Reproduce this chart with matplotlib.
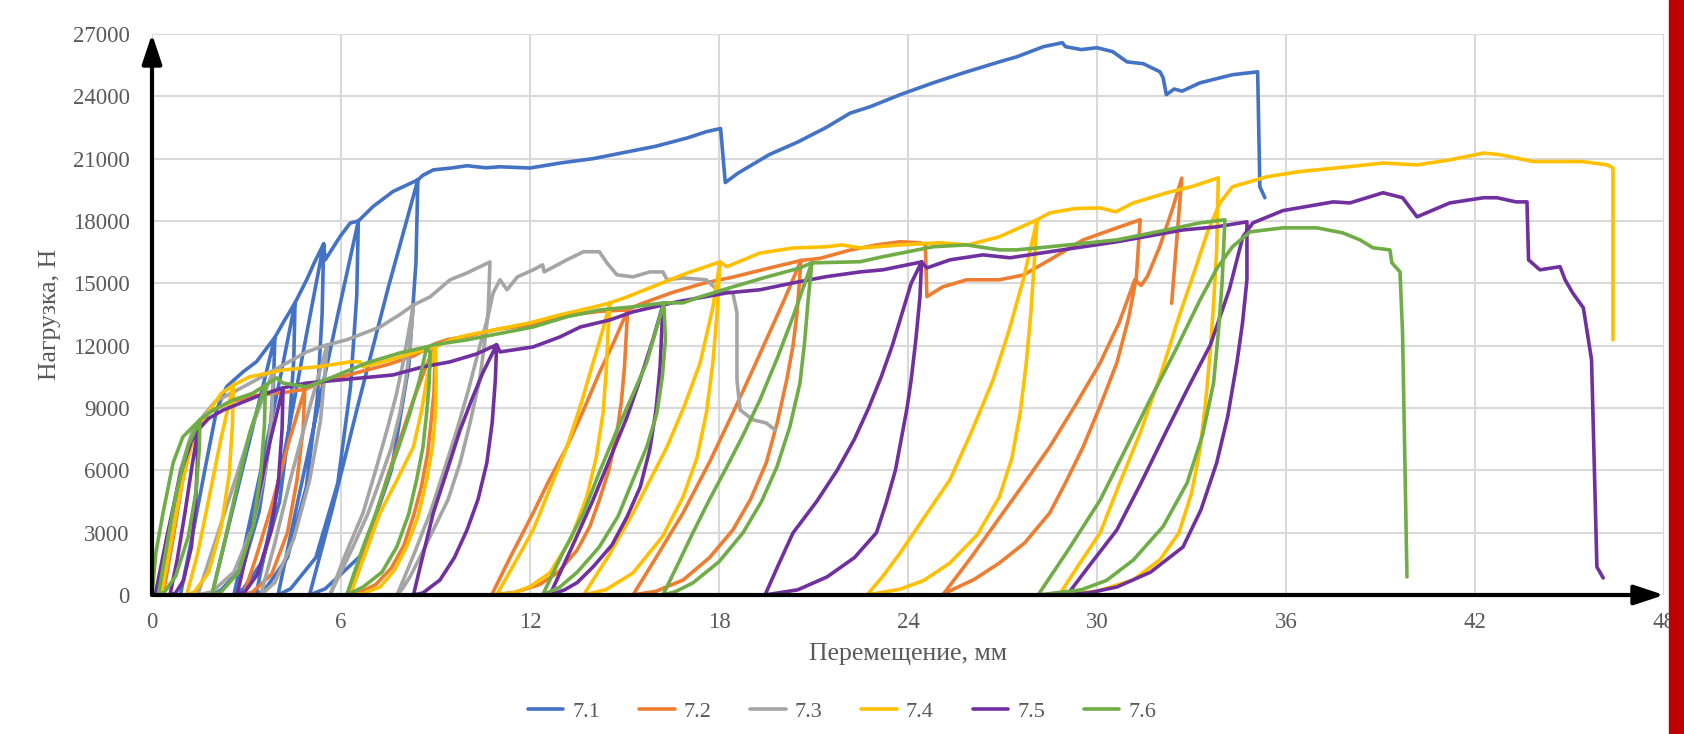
import numpy as np
import matplotlib.pyplot as plt
from matplotlib.patches import Rectangle

plt.rcParams['font.family'] = ['Liberation Serif', 'DejaVu Serif']

series_names = ['7.1', '7.2', '7.3', '7.4', '7.5', '7.6']
series_colors = ['#4472C4', '#ED7D31', '#A5A5A5', '#FFC000', '#7030A0', '#70AD47']

# (перемещение, мм; нагрузка, Н) - петли разгрузки/нагрузки идут подряд
curve_71 = [
    (0.9, 0), (1.3, 3000), (1.7, 6200), (2.05, 8900), (2.37, 10030), (2.9, 10750), (3.32, 11230), (3.9, 12400),
    (3.85, 9900), (3.7, 7000), (3.4, 4000), (2.9, 1400), (2.2, 250), (1.9, 0),
    (2.3, 2500), (2.8, 5600), (3.4, 9300), (3.9, 12400),
    (4.2, 13200), (4.54, 14060),
    (4.5, 11300), (4.35, 8000), (4.05, 4500), (3.5, 1600), (2.9, 300), (2.6, 0),
    (3.0, 2800), (3.5, 6300), (4.05, 10300), (4.54, 14060),
    (4.91, 15170), (5.17, 16050), (5.45, 16900),
    (5.4, 13500), (5.25, 9500), (4.9, 5200), (4.3, 1800), (3.6, 300), (3.3, 0),
    (3.75, 3300), (4.3, 7600), (4.9, 12500), (5.45, 16900),
    (5.5, 16130), (5.97, 17250), (6.29, 17900), (6.55, 18000),
    (6.5, 14400), (6.3, 10000), (5.9, 5400), (5.2, 1800), (4.4, 300), (4.0, 0),
    (4.5, 3600), (5.15, 8200), (5.9, 13500), (6.55, 18000),
    (7.02, 18700), (7.65, 19420), (8.44, 19980),
    (8.38, 16000), (8.15, 11000), (7.6, 6000), (6.7, 2000), (5.5, 300), (5.0, 0),
    (5.7, 4000), (6.55, 9200), (7.5, 14800), (8.44, 19980),
    (8.6, 20200), (8.93, 20460), (9.5, 20550), (10.0, 20660), (10.6, 20560), (11.05, 20610),
    (12.0, 20550), (13.0, 20800), (14.0, 21000), (15.0, 21300), (16.0, 21600), (17.0, 22000),
    (17.6, 22300), (18.05, 22450), (18.2, 19850), (18.6, 20300), (19.6, 21200), (20.5, 21800),
    (21.4, 22500), (22.16, 23190), (22.8, 23500), (23.75, 24080), (24.8, 24650), (25.8, 25150),
    (26.9, 25660), (27.45, 25900), (28.3, 26390), (28.9, 26580), (29.0, 26390), (29.5, 26250),
    (30.0, 26340), (30.5, 26150), (30.95, 25660), (31.47, 25570), (32.0, 25180), (32.1, 24890),
    (32.2, 24080), (32.45, 24350), (32.7, 24250), (33.27, 24650), (34.3, 25040), (35.1, 25180),
    (35.17, 19650), (35.33, 19120),
]

curve_72 = [
    (0.35, 0), (0.7, 3000), (1.0, 5800), (1.3, 7600), (1.8, 8800), (2.5, 9300), (3.3, 9600), (4.2, 9750), (4.85, 9900),
    (4.8, 8000), (4.6, 5500), (4.3, 3000), (3.8, 1000), (3.2, 150), (2.9, 0),
    (3.3, 1800), (3.8, 4300), (4.35, 7400), (4.85, 9900),
    (5.5, 10300), (6.5, 10700), (7.5, 11100), (8.3, 11500), (9.0, 12100),
    (8.95, 9700), (8.85, 8200), (8.75, 6800), (8.55, 5200), (8.3, 3800), (8.0, 2400), (7.6, 1300),
    (7.1, 500), (6.7, 200), (6.2, 0),
    (6.5, 1100), (6.8, 2400), (7.15, 4100), (7.5, 5800), (7.9, 7600), (8.3, 9400), (8.65, 10800), (9.0, 12100),
    (9.4, 12300), (10.0, 12450), (11.0, 12800), (12.0, 13000), (13.17, 13450), (14.2, 13650), (15.1, 13720),
    (15.0, 10980), (14.9, 9300), (14.76, 7800), (14.5, 6000), (14.2, 4570), (13.9, 3300), (13.5, 2170),
    (12.9, 1100), (12.3, 500), (11.5, 120), (10.78, 0),
    (11.4, 1900), (12.1, 3950), (12.6, 5500), (13.17, 7130), (13.7, 8900), (14.2, 10690), (14.7, 12300), (15.1, 13720),
    (15.5, 14000), (16.5, 14550), (17.5, 15000), (18.44, 15300), (19.5, 15700), (20.6, 16100),
    (20.48, 13580), (20.35, 12000), (20.15, 10350), (19.85, 8300), (19.5, 6360), (19.0, 4600), (18.44, 3130),
    (17.7, 1800), (16.86, 720), (16.0, 180), (15.27, 0),
    (16.0, 1800), (16.86, 3950), (17.7, 6400), (18.44, 8760), (19.0, 10600), (19.5, 12280), (20.1, 14300), (20.6, 16100),
    (21.2, 16200), (22.16, 16600), (23.0, 16850), (23.75, 17000), (24.4, 16950), (24.55, 16850),
    (24.6, 14360), (25.1, 14830), (25.86, 15170), (26.9, 15170), (27.66, 15400), (28.5, 16130),
    (29.56, 17090), (30.5, 17600), (31.37, 18060),
    (31.25, 15300), (31.0, 13300), (30.63, 11170), (30.1, 9100), (29.56, 7130), (29.0, 5400), (28.5, 3950),
    (27.7, 2500), (26.9, 1540), (26.1, 750), (25.33, 200), (25.1, 0),
    (26.0, 1800), (26.9, 3710), (27.7, 5400), (28.5, 7130), (29.3, 9100), (30.1, 11170), (30.7, 13100), (31.2, 15170),
    (31.4, 14900), (31.6, 15330), (32.0, 16800), (32.4, 18600), (32.69, 20060), (32.37, 14040),
]

curve_73 = [
    (0.25, 0), (0.55, 3000), (0.9, 6000), (1.3, 8000), (2.0, 9300), (3.0, 10100), (3.85, 10800),
    (3.8, 8600), (3.6, 6000), (3.2, 3300), (2.6, 1100), (1.9, 150), (1.45, 0),
    (1.95, 2300), (2.55, 5100), (3.2, 8200), (3.85, 10800),
    (4.06, 10980), (4.91, 11700), (5.56, 12040),
    (5.5, 10900), (5.35, 8400), (5.0, 5500), (4.5, 2700), (3.9, 600), (3.45, 0),
    (3.9, 2500), (4.4, 5600), (5.0, 9000), (5.56, 12040),
    (6.18, 12280), (7.24, 12900), (7.87, 13500), (8.3, 13960),
    (8.19, 11940), (8.05, 10300), (7.87, 8760), (7.6, 7100), (7.24, 5540), (6.85, 3900), (6.38, 2310),
    (5.9, 800), (5.65, 0),
    (6.1, 1800), (6.7, 3950), (7.1, 6000), (7.46, 7940), (7.75, 9600), (7.97, 11170), (8.3, 13960),
    (8.83, 14350), (9.46, 15170), (10.0, 15500), (10.73, 16030),
    (10.67, 13580), (10.55, 12000), (10.4, 10350), (10.1, 8300), (9.78, 6360), (9.4, 4600), (8.93, 3130),
    (8.5, 1800), (8.2, 900), (7.95, 300), (7.78, 0),
    (8.3, 1900), (8.83, 3950), (9.25, 5900), (9.68, 7940), (10.05, 9900), (10.4, 11940), (10.65, 13300), (10.83, 14540),
    (11.05, 15170), (11.27, 14690), (11.6, 15310), (12.1, 15650), (12.4, 15890), (12.45, 15550),
    (13.17, 16130), (13.7, 16520), (14.2, 16520), (14.44, 15990), (14.76, 15410), (15.27, 15310),
    (15.8, 15550), (16.22, 15550), (16.35, 15170), (16.86, 15260), (17.6, 15170), (17.94, 14690),
    (18.44, 14540), (18.57, 13580), (18.57, 10350), (18.67, 8910), (19.08, 8430), (19.5, 8280), (19.78, 7940),
]

curve_74 = [
    (0.3, 0), (0.6, 2500), (0.9, 5000), (1.25, 7200), (1.7, 8600), (2.2, 9700), (2.58, 10100),
    (2.55, 8100), (2.45, 5800), (2.2, 3300), (1.8, 1100), (1.35, 150), (1.1, 0),
    (1.45, 2000), (1.8, 4600), (2.2, 7600), (2.58, 10100),
    (3.1, 10500), (4.16, 10830), (5.24, 10980), (6.29, 11220), (6.6, 11220), (6.7, 10980),
    (7.5, 11300), (8.3, 11650), (9.0, 11950),
    (9.02, 10300), (9.0, 8760), (8.9, 7100), (8.72, 5540), (8.45, 3800), (8.08, 2310), (7.7, 1200),
    (7.24, 385), (6.7, 80), (6.29, 0),
    (6.75, 1900), (7.24, 3950), (7.8, 5600), (8.3, 7130), (8.55, 8800), (8.72, 10350), (9.0, 11950),
    (9.5, 12300), (10.0, 12500), (11.0, 12800), (12.0, 13100), (13.0, 13500), (14.0, 13850), (14.54, 14060),
    (14.48, 12760), (14.42, 10800), (14.32, 8760), (14.1, 6600), (13.8, 4720), (13.3, 2700), (12.63, 1060),
    (12.0, 400), (11.5, 120), (10.94, 0),
    (11.5, 1500), (12.1, 3130), (12.6, 5000), (13.17, 7130), (13.6, 9100), (14.0, 11170), (14.3, 12700), (14.54, 14060),
    (15.0, 14300), (16.0, 14900), (17.0, 15500), (18.03, 16030),
    (17.94, 13580), (17.8, 11100), (17.6, 8760), (17.3, 6600), (16.86, 4720), (16.2, 2800), (15.27, 1060),
    (14.4, 250), (13.7, 0),
    (14.5, 1900), (15.27, 3950), (15.8, 5500), (16.35, 7130), (16.9, 9100), (17.4, 11170), (17.8, 13800), (18.03, 16030),
    (18.25, 15800), (19.3, 16460), (20.35, 16700), (21.4, 16760), (21.9, 16850), (22.5, 16700),
    (23.75, 16850), (25.0, 16950), (25.9, 16850), (26.9, 17240), (28.1, 18060),
    (27.9, 13580), (27.75, 11100), (27.56, 8760), (27.3, 6600), (26.9, 4720), (26.2, 2900), (25.33, 1540),
    (24.5, 700), (23.75, 280), (22.7, 0),
    (23.2, 900), (23.75, 2020), (24.5, 3700), (25.33, 5540), (26.0, 7800), (26.7, 10350), (27.2, 12700),
    (27.66, 15170), (28.1, 18060),
    (28.5, 18390), (29.3, 18600), (30.1, 18630), (30.6, 18440), (31.15, 18870), (32.2, 19350),
    (33.0, 19650), (33.85, 20080),
    (33.8, 16610), (33.7, 14000), (33.6, 11800), (33.45, 9300), (33.27, 6980), (33.0, 4900), (32.6, 2990),
    (32.0, 1700), (31.15, 720), (30.0, 180), (28.8, 0),
    (29.4, 1400), (30.1, 2990), (30.7, 5300), (31.37, 7800), (32.0, 10500), (32.6, 13390), (33.1, 15600),
    (33.5, 17430), (33.9, 18870),
    (34.3, 19650), (35.4, 20130), (36.44, 20380), (38.03, 20620), (39.08, 20790), (40.16, 20700),
    (41.2, 20940), (42.27, 21270), (42.8, 21190), (43.84, 20860), (45.4, 20860), (46.2, 20700),
    (46.38, 20550), (46.38, 12280),
]

curve_75 = [
    (0.1, 0), (0.5, 3000), (0.9, 5800), (1.25, 7400), (1.46, 7940),
    (1.44, 6300), (1.38, 4300), (1.25, 2300), (1.0, 700), (0.75, 100), (0.57, 0),
    (0.8, 1700), (1.05, 4000), (1.27, 6200), (1.46, 7940),
    (1.8, 8500), (2.26, 8900), (3.32, 9550), (4.16, 9970),
    (4.13, 8000), (4.02, 5600), (3.78, 3100), (3.35, 1000), (2.95, 150), (2.7, 0),
    (3.0, 2000), (3.35, 4600), (3.78, 7600), (4.16, 9970),
    (4.91, 10200), (5.97, 10350), (7.0, 10500), (7.65, 10590), (8.6, 10980), (9.46, 11220),
    (10.3, 11600), (10.94, 12040),
    (10.9, 10350), (10.8, 8300), (10.63, 6360), (10.35, 4600), (10.0, 3130), (9.6, 1800), (9.14, 720),
    (8.6, 100), (8.3, 0),
    (8.6, 1900), (8.93, 3950), (9.35, 5900), (9.78, 7940), (10.15, 9400), (10.5, 10690), (10.94, 12040),
    (11.05, 11700), (12.1, 11940), (12.95, 12420), (13.6, 12900), (14.54, 13240), (15.27, 13630), (16.22, 13960),
    (16.13, 10980), (16.0, 8900), (15.8, 6980), (15.5, 5200), (15.08, 3760), (14.6, 2400), (14.0, 1350),
    (13.5, 600), (13.1, 250), (12.63, 0),
    (13.3, 2200), (14.0, 4570), (14.55, 6600), (15.08, 8570), (15.5, 10400), (15.9, 12280), (16.22, 13960),
    (16.67, 14110), (18.25, 14540), (19.3, 14690), (20.35, 15020), (21.4, 15320), (22.48, 15550),
    (23.2, 15650), (24.43, 16030),
    (24.38, 14350), (24.25, 12300), (24.1, 10350), (23.97, 9000), (23.6, 6000), (23.3, 4400), (23.0, 3000),
    (22.3, 1800), (21.43, 870), (20.5, 250), (19.46, 0),
    (19.9, 1500), (20.35, 2990), (21.1, 4500), (21.75, 6000), (22.3, 7500), (22.75, 9000), (23.15, 10500),
    (23.5, 12000), (24.1, 15000), (24.43, 16030),
    (24.6, 15740), (25.33, 16130), (26.38, 16370), (27.24, 16230), (28.5, 16520), (30.63, 17000),
    (32.73, 17570), (33.8, 17720), (34.76, 17960),
    (34.76, 15170), (34.62, 13100), (34.44, 11170), (34.15, 8600), (33.8, 6360), (33.3, 4100), (32.73, 2310),
    (31.7, 1100), (30.63, 385), (29.8, 120), (29.05, 0),
    (29.8, 1500), (30.63, 3130), (31.4, 5400), (32.22, 7940), (32.9, 10000), (33.6, 12040), (34.2, 14700),
    (34.63, 17240), (34.95, 17910),
    (35.9, 18500), (37.5, 18920), (38.03, 18870), (39.08, 19360), (39.7, 19120), (40.16, 18200),
    (41.2, 18870), (42.27, 19120), (42.7, 19120), (43.3, 18920), (43.65, 18920), (43.7, 16130),
    (44.06, 15650), (44.7, 15800), (44.86, 15170), (45.1, 14540), (45.44, 13820), (45.7, 11320),
    (45.76, 7800), (45.87, 1350), (46.07, 820),
]

curve_76 = [
    (0.0, 0), (0.12, 2000), (0.35, 3950), (0.67, 6360), (0.98, 7610), (1.52, 8430),
    (1.5, 7000), (1.4, 5000), (1.15, 2800), (0.75, 900), (0.4, 150), (0.2, 0),
    (0.45, 2200), (0.75, 4800), (1.15, 7200), (1.52, 8430),
    (1.94, 8900), (2.58, 9390), (3.2, 9710), (3.6, 10100),
    (3.57, 8200), (3.45, 5800), (3.2, 3300), (2.75, 1100), (2.2, 150), (1.9, 0),
    (2.25, 2200), (2.65, 4900), (3.1, 7800), (3.6, 10100),
    (3.96, 10450), (4.16, 10200), (4.91, 10020), (5.75, 10500), (6.82, 11170), (7.87, 11650), (8.72, 11940),
    (8.83, 11650), (8.8, 10200), (8.72, 8760), (8.6, 7100), (8.4, 5540), (8.15, 3900), (7.77, 2310),
    (7.3, 1100), (6.7, 385), (6.18, 0),
    (6.7, 2310), (7.1, 3900), (7.46, 5540), (7.85, 7200), (8.19, 8760), (8.5, 10400), (8.72, 11940),
    (8.93, 12040), (10.0, 12280), (12.1, 12900), (13.17, 13390), (14.2, 13720), (15.27, 13870), (16.25, 14060),
    (16.3, 12280), (16.2, 10500), (16.03, 8760), (15.7, 7100), (15.27, 5540), (14.8, 3800), (14.2, 2310),
    (13.5, 1100), (12.95, 385), (12.4, 0),
    (13.0, 1900), (13.7, 3950), (14.2, 5900), (14.76, 7940), (15.25, 9600), (15.7, 11170), (16.25, 14060),
    (16.86, 14060), (17.4, 14350), (18.44, 14830), (19.5, 15300), (20.57, 15740), (20.95, 15990),
    (20.83, 14200), (20.72, 12200), (20.57, 10200), (20.25, 8100), (19.84, 6170), (19.35, 4500), (18.76, 2990),
    (18.0, 1600), (17.17, 580), (16.6, 150), (16.22, 0),
    (16.7, 1500), (17.17, 2990), (17.7, 4600), (18.25, 6170), (18.8, 7800), (19.3, 9390), (19.85, 11400),
    (20.35, 13390), (20.95, 15990),
    (21.1, 15990), (22.48, 16040), (23.2, 16280), (24.8, 16760), (25.86, 16850), (26.9, 16610),
    (27.45, 16610), (28.5, 16760), (30.63, 17090), (32.2, 17570), (33.27, 17910), (34.06, 18060),
    (33.97, 15020), (33.85, 12600), (33.7, 10200), (33.35, 7700), (32.86, 5390), (32.1, 3300), (31.15, 1680),
    (30.3, 700), (29.5, 250), (28.13, 0),
    (29.1, 2200), (30.1, 4570), (30.9, 7000), (31.68, 9390), (32.5, 11800), (33.27, 14200), (33.8, 15700),
    (34.3, 16760), (34.86, 17480),
    (35.9, 17670), (36.98, 17670), (37.8, 17430), (38.35, 17090), (38.76, 16710), (39.3, 16610),
    (39.36, 15990), (39.62, 15550), (39.7, 12620), (39.84, 870),
]

curves = [curve_71, curve_72, curve_73, curve_74, curve_75, curve_76]

fig, ax = plt.subplots(figsize=(16.84, 7.34), dpi=100)
fig.subplots_adjust(left=152 / 1684, right=1664 / 1684, bottom=1 - 595 / 734, top=1 - 34 / 734)

for name, color, pts in zip(series_names, series_colors, curves):
    arr = np.array(pts, dtype=float)
    ax.plot(arr[:, 0], arr[:, 1], color=color, lw=2.6, label=name,
            solid_joinstyle='round', solid_capstyle='round', zorder=3)

ax.set_xlim(0, 48)
ax.set_ylim(0, 27000)
ax.set_xticks(np.arange(0, 49, 6))
ax.set_yticks(np.arange(0, 27001, 3000))
ax.grid(color='#D9D9D9', lw=1.5)
ax.set_axisbelow(True)
for s in ax.spines.values():
    s.set_visible(False)
ax.tick_params(length=0, labelsize=16.5, colors='#595959')
ax.tick_params(axis='y', pad=16)
ax.tick_params(axis='x', pad=12)

# оси со стрелками
arrow = dict(arrowstyle='-|>,head_length=0.9,head_width=0.3', color='black', lw=3,
             shrinkA=0, shrinkB=0, mutation_scale=20)
ax.annotate('', xy=(0, 1), xytext=(0, 0), xycoords='axes fraction', textcoords='axes fraction',
            arrowprops=arrow, annotation_clip=False, zorder=5)
ax.annotate('', xy=(1, 0), xytext=(0, 0), xycoords='axes fraction', textcoords='axes fraction',
            arrowprops=arrow, annotation_clip=False, zorder=5)

ax.set_xlabel('Перемещение, мм', fontsize=18.5, color='#595959')
ax.set_ylabel('Нагрузка, Н', fontsize=18.5, color='#595959')
ax.xaxis.set_label_coords(0.5, -0.105)
ax.xaxis.label.set_va('center')
ax.yaxis.set_label_coords(-0.0675, 0.5)
ax.yaxis.label.set_va('center')

fig.legend(loc='center', bbox_to_anchor=(0.5, 0.03), ncol=6, frameon=False, fontsize=16,
           handlelength=1.6, handletextpad=0.4, columnspacing=1.75,
           labelcolor='#595959')

fig.patches.append(Rectangle((1669 / 1684, 0), 15 / 1684, 1, transform=fig.transFigure,
                             color='#C00000', zorder=10))

fig.savefig('out.png', dpi=100)
